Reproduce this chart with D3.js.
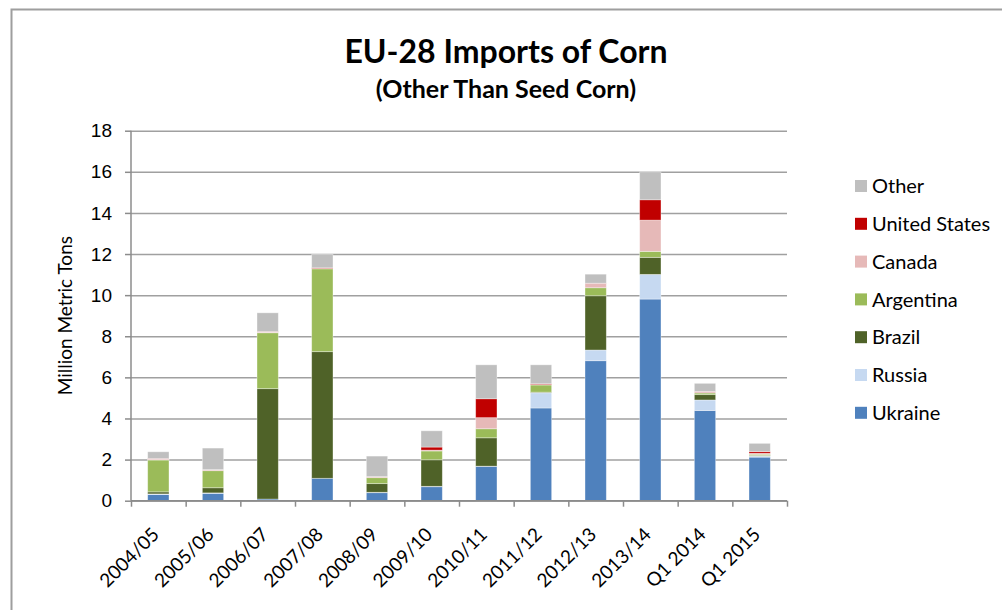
<!DOCTYPE html>
<html>
<head>
<meta charset="utf-8">
<script src="https://cdn.jsdelivr.net/npm/d3@7"></script>
<style>
  body { margin: 0; background: #fff; }
  svg { display: block; font-family: Lato, "Open Sans", sans-serif; }
  .grid line { stroke: #a0a0a0; stroke-width: 1.5; }
  .grid .domain { display: none; }
  .axis path, .axis line { stroke: #8c8c8c; stroke-width: 1.5; }
  .axis text { fill: #000; font-size: 19px; }
</style>
</head>
<body>
<svg id="chart"></svg>
<script>
const categories = ['2004/05', '2005/06', '2006/07', '2007/08', '2008/09', '2009/10',
  '2010/11', '2011/12', '2012/13', '2013/14', 'Q1 2014', 'Q1 2015']

// stacked bottom to top
const ukraine = [0.30, 0.36, 0.08, 1.09, 0.39, 0.68, 1.67, 4.51, 6.81, 9.81, 4.39, 2.12]
const russia = [0.03, 0.02, 0.00, 0.00, 0.02, 0.02, 0.01, 0.74, 0.52, 1.20, 0.51, 0.05]
const brazil = [0.10, 0.25, 5.37, 6.16, 0.42, 1.29, 1.38, 0.03, 2.64, 0.83, 0.26, 0.03]
const argentina = [1.55, 0.83, 2.72, 4.03, 0.29, 0.43, 0.44, 0.35, 0.39, 0.29, 0.08, 0.06]
const canada = [0.05, 0.05, 0.04, 0.02, 0.05, 0.04, 0.54, 0.02, 0.21, 1.52, 0.07, 0.05]
const unitedStates = [0.02, 0.00, 0.02, 0.03, 0.00, 0.15, 0.92, 0.04, 0.01, 0.99, 0.01, 0.08]
const other = [0.33, 1.05, 0.91, 0.65, 1.00, 0.79, 1.65, 0.92, 0.44, 1.36, 0.39, 0.40]

const seriesNames = ['Ukraine', 'Russia', 'Brazil', 'Argentina', 'Canada', 'United States', 'Other']
const seriesValues = [ukraine, russia, brazil, argentina, canada, unitedStates, other]
const seriesColors = ['#4f81bd', '#c6d9f1', '#4f6228', '#9bbb59', '#e6b9b8', '#c00000', '#bfbfbf']
const yTicks = [0, 2, 4, 6, 8, 10, 12, 14, 16, 18]

const width = 1002
const height = 610
const plot = { left: 131, right: 787, top: 130.7, bottom: 500.7 }

const svg = d3.select('#chart')
  .attr('width', width)
  .attr('height', height)

// outer chart frame, runs off the right and bottom of the picture
svg.append('rect')
  .attr('x', 11.5)
  .attr('y', 9.5)
  .attr('width', 1000)
  .attr('height', 620)
  .attr('fill', '#fff')
  .attr('stroke', '#9e9e9e')
  .attr('stroke-width', 2)

const table = categories.map((c, i) => {
  const row = { category: c }
  seriesNames.forEach((s, j) => { row[s] = seriesValues[j][i] })
  return row
})

const stacked = d3.stack().keys(seriesNames)(table)

const x = d3.scaleBand()
  .domain(categories)
  .range([plot.left, plot.right])
  .paddingInner(0.61)
  .paddingOuter(0.305)

const y = d3.scaleLinear()
  .domain([0, 18])
  .range([plot.bottom, plot.top])

const color = d3.scaleOrdinal()
  .domain(seriesNames)
  .range(seriesColors)

svg.append('g')
  .attr('class', 'grid')
  .attr('transform', `translate(${plot.left}, 0)`)
  .call(d3.axisLeft(y).tickValues(yTicks).tickSize(-(plot.right - plot.left)).tickFormat(''))

svg.append('g')
  .selectAll('g')
  .data(stacked)
  .join('g')
  .attr('fill', d => color(d.key))
  .selectAll('rect')
  .data(d => d)
  .join('rect')
  .attr('x', d => x(d.data.category))
  .attr('y', d => y(d[1]))
  .attr('width', x.bandwidth())
  .attr('height', d => y(d[0]) - y(d[1]))
  .attr('stroke', 'rgba(255,255,255,0.45)')
  .attr('stroke-width', 0.8)

const xTickScale = d3.scalePoint()
  .domain(d3.range(categories.length + 1))
  .range([plot.left, plot.right])

svg.append('g')
  .attr('class', 'axis')
  .attr('transform', `translate(0, ${plot.bottom})`)
  .call(d3.axisBottom(xTickScale).tickSize(6).tickFormat(''))
  .select('.domain')
  .attr('d', `M${plot.left},0H${plot.right}`)

svg.append('g')
  .attr('class', 'axis')
  .selectAll('text')
  .data(categories)
  .join('text')
  .attr('transform', d => `translate(${x(d) + x.bandwidth() / 2 + 2}, ${plot.bottom + 35}) rotate(-45)`)
  .attr('text-anchor', 'end')
  .text(d => d)

svg.append('g')
  .attr('class', 'axis')
  .attr('transform', `translate(${plot.left}, 0)`)
  .call(d3.axisLeft(y).tickValues(yTicks).tickSize(6).tickPadding(13))
  .call(g => g.select('.domain').attr('d', `M0,${plot.bottom}V${plot.top}`))

svg.append('text')
  .attr('transform', `translate(72, ${(plot.top + plot.bottom) / 2}) rotate(-90)`)
  .attr('text-anchor', 'middle')
  .attr('font-size', 19)
  .text('Million Metric Tons')

svg.append('text')
  .attr('x', 506)
  .attr('y', 63)
  .attr('text-anchor', 'middle')
  .attr('font-size', 32)
  .attr('font-weight', 'bold')
  .text('EU-28 Imports of Corn')

svg.append('text')
  .attr('x', 506)
  .attr('y', 98)
  .attr('text-anchor', 'middle')
  .attr('font-size', 25)
  .attr('font-weight', 'bold')
  .text('(Other Than Seed Corn)')

const legend = svg.append('g')
  .selectAll('g')
  .data(seriesNames.slice().reverse())
  .join('g')
  .attr('transform', (d, i) => `translate(855, ${186 + i * 37.8})`)

legend.append('rect')
  .attr('x', 0)
  .attr('y', -6)
  .attr('width', 12)
  .attr('height', 12)
  .attr('fill', d => color(d))

legend.append('text')
  .attr('x', 17)
  .attr('dy', '0.36em')
  .attr('font-size', 20)
  .text(d => d)
</script>
</body>
</html>
